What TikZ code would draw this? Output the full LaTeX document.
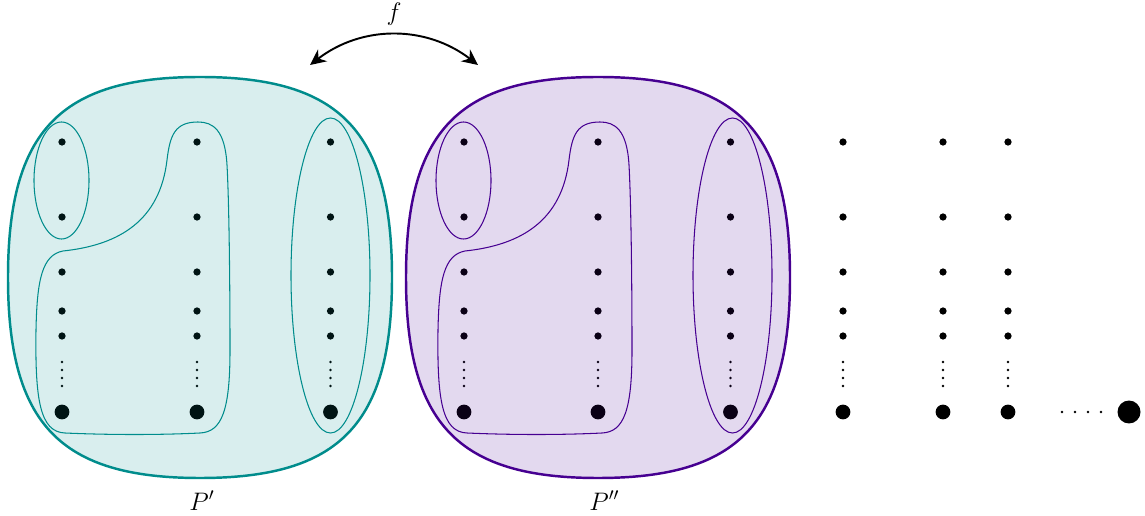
\documentclass[tikz,border=0pt]{standalone}
\usetikzlibrary{arrows.meta}
\definecolor{tealc}{RGB}{0,140,140}
\definecolor{purc}{RGB}{70,0,145}
\begin{document}
\begin{tikzpicture}[x=0.02cm,y=-0.02cm,
  dot/.style={circle,fill=black,inner sep=0pt,minimum size=1.45mm},
  bigdot/.style={circle,fill=black,inner sep=0pt,minimum size=2.95mm},
  hugedot/.style={circle,fill=black,inner sep=0pt,minimum size=4.6mm},
  tinydot/.style={circle,fill=black,inner sep=0pt,minimum size=0.55mm},
  blob/.style={line width=1.4pt},
  part/.style={line width=0.6pt},
  lab/.style={inner sep=0pt,font=\Large}]
\useasboundingbox (0,0) rectangle (1145,516);
% dots
\foreach \c [count=\i] in {62,197,330.5,464,598,730.5,843,943,1008}{
  \foreach \r [count=\j] in {142,217,272,311,336}
    \node[dot] (d\i-\j) at (\c,\r) {};
  \foreach \v [count=\k] in {362,370,378,386}
    \node[tinydot] (v\i-\k) at (\c,\v) {};
  \node[bigdot] (b\i) at (\c,412) {};
}
\foreach \h [count=\k] in {1062,1075,1088,1101}
  \node[tinydot] (h\k) at (\h,412) {};
\node[hugedot] (last) at (1129,412) {};
% left blob
\draw[blob,draw=tealc,fill=tealc,fill opacity=0.15]
  (200,77) .. controls (340,77) and (392,131) .. (392,277.5)
  .. controls (392,424) and (340,478) .. (200,478)
  .. controls (60,478) and (8,424) .. (8,277.5)
  .. controls (8,131) and (60,77) .. (200,77) -- cycle;
% right blob
\draw[blob,draw=purc,fill=purc,fill opacity=0.15]
  (598,77) .. controls (738,77) and (790,131) .. (790,277.5)
  .. controls (790,424) and (738,478) .. (598,478)
  .. controls (458,478) and (406,424) .. (406,277.5)
  .. controls (406,131) and (458,77) .. (598,77) -- cycle;
% inner parts
\foreach \s/\col in {0/tealc,402/purc}{
  \begin{scope}[shift={(\s,0)},part,draw=\col]
    \draw (61.5,180.5) ellipse [x radius=27.5, y radius=58.5];
    \draw (330.5,275.5) ellipse [x radius=39.5, y radius=157.5];
    \draw (63,251)
      .. controls (42,255) and (37,280) .. (36,330)
      .. controls (35,400) and (40,432) .. (65,433)
      .. controls (110,435) and (160,435) .. (200,433)
      .. controls (222,432) and (230,410) .. (230,350)
      .. controls (230,280) and (229,200) .. (227,165)
      .. controls (225,130) and (213,122) .. (198,122)
      .. controls (175,122) and (170,135) .. (167,160)
      .. controls (160,220) and (120,245) .. (63,251) -- cycle;
  \end{scope}
}
% map f
\coordinate (fa) at (310,65);
\coordinate (fb) at (478,65);
\draw[line width=1.1pt,{Stealth[length=9pt,width=8.5pt]}-{Stealth[length=9pt,width=8.5pt]}]
  (fa) .. controls (362,25) and (426,25) .. (fb);
\node[lab,anchor=base] (flab) at (394,21) {$f$};
\node[lab,anchor=base west] (P1) at (189,510) {$P'$};
\node[lab,anchor=base west] (P2) at (589,510) {$P''$};
\end{tikzpicture}
\end{document}
